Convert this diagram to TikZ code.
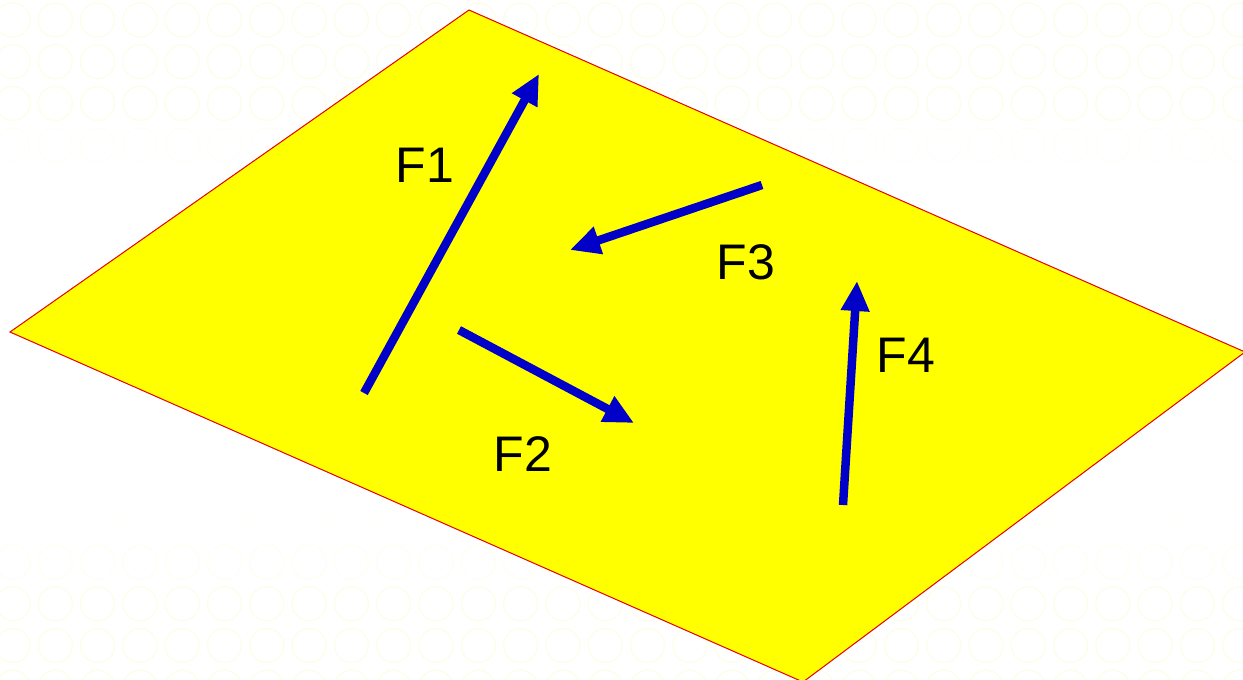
\documentclass[tikz,border=0pt]{standalone}
\usepackage{fontspec}
\setmainfont{Liberation Sans}
\usetikzlibrary{arrows.meta}
\definecolor{bgring}{RGB}{253,253,236}
\definecolor{forceblue}{RGB}{0,0,200}
\definecolor{planeyellow}{RGB}{255,255,0}
\definecolor{planeedge}{RGB}{230,0,0}
\tikzset{
  force/.style={draw=forceblue, line width=8.5pt, -{Triangle[length=30pt,width=27pt]}},
  flabel/.style={font=\fontsize{50}{50}\selectfont, text=black, inner sep=0pt},
  plane/.style={fill=planeyellow, draw=planeedge, line width=1pt}
}
\begin{document}
\begin{tikzpicture}[x=1pt,y=-1pt]
\useasboundingbox (0,0) rectangle (1243,680);
\begin{scope}
\clip (0,0) rectangle (1243,680);
\foreach \j/\op in {0/1,1/1,2/1,3/0.35,12/0.2,13/0.5,14/1,15/1,16/1}{
  \foreach \i in {0,...,30}{
    \draw[bgring, line width=1.5pt, opacity=\op] ({13+42.3*\i},{20+41.7*\j}) circle (17);
  }
}
\end{scope}
\coordinate (T) at (469,10);
\coordinate (L) at (10,332);
\coordinate (B) at (803,682);
\coordinate (R) at (1245,352);
\draw[plane] (T) -- (R) -- (B) -- (L) -- cycle;
% forces
\coordinate (f1s) at (364,393);
\coordinate (f1e) at (539,74);
\coordinate (f2s) at (459,330);
\coordinate (f2e) at (634,423);
\coordinate (f3s) at (762,185);
\coordinate (f3e) at (570,250);
\coordinate (f4s) at (843,505);
\coordinate (f4e) at (857,281);
\draw[force] (f1s) -- (f1e);
\draw[force] (f2s) -- (f2e);
\draw[force] (f3s) -- (f3e);
\draw[force] (f4s) -- (f4e);
\node[flabel] (l1) at (425,165) {F1};
\node[flabel] (l2) at (523,454) {F2};
\node[flabel] (l3) at (746,262) {F3};
\node[flabel] (l4) at (906,355) {F4};
\end{tikzpicture}
\end{document}
